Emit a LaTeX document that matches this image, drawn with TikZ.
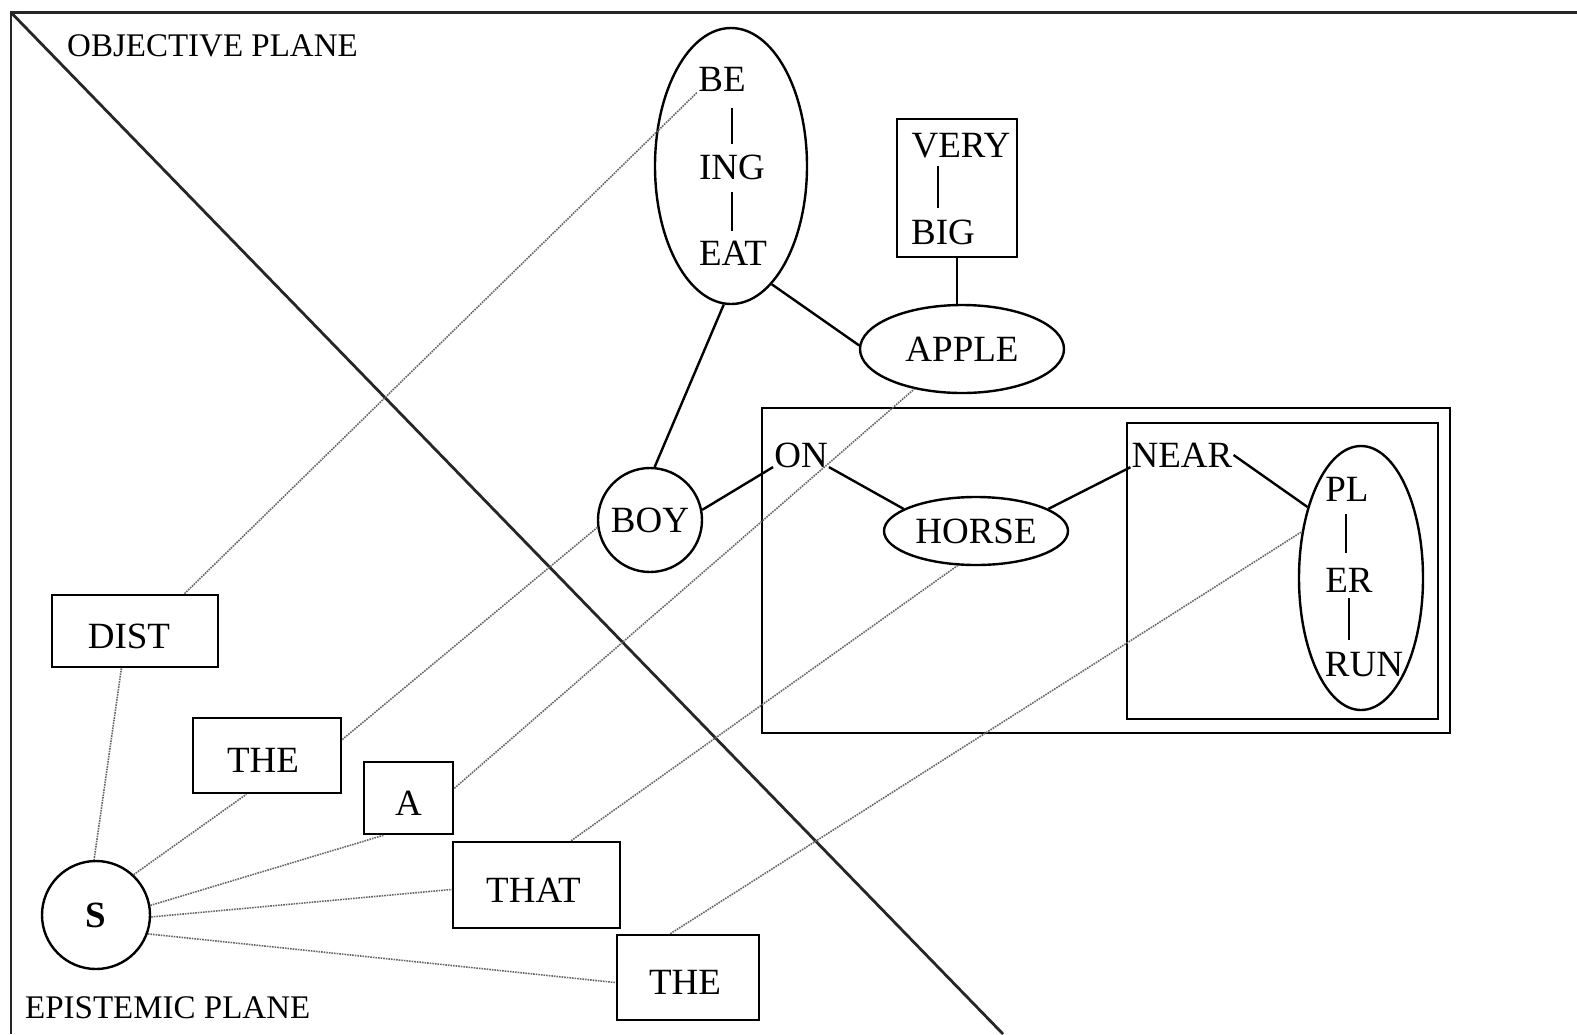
\documentclass[tikz,border=0pt]{standalone}
\usepackage{fontspec}
\setmainfont{Liberation Serif}
\usetikzlibrary{shapes.geometric,calc}
\begin{document}
\begin{tikzpicture}[x=1pt,y=-1pt,
  txt/.style={font=\fontsize{37}{40}\selectfont, inner sep=1pt},
  plane/.style={font=\fontsize{33}{36}\selectfont, inner sep=0pt, anchor=west},
  ell/.style={draw, ellipse, line width=2.4pt, inner sep=0pt, font=\fontsize{37}{40}\selectfont},
  circ/.style={draw, circle, line width=2.4pt, inner sep=0pt, font=\fontsize{37}{40}\selectfont},
  wbox/.style={draw, rectangle, line width=2.6pt, inner sep=0pt, font=\fontsize{37}{40}\selectfont, text height=34pt, text depth=0pt},
  emptybox/.style={draw, rectangle, line width=2.6pt, inner sep=0pt},
  solidlink/.style={line width=2.4pt},
  dotlink/.style={densely dotted, line width=1.6pt, black!60},
  planeframe/.style={line width=2.8pt, black!85}
]
\useasboundingbox (0,0) rectangle (1577,1034);
% frame and dividing diagonal
\coordinate (tl) at (11,12.5);
\coordinate (tr) at (1577,12.5);
\coordinate (bl) at (11,1034);
\coordinate (db) at (1003,1034);
\draw[planeframe] (tr) -- (tl) -- (bl);
\draw[planeframe] (tl) -- (db);
\node[plane] (objp) at (67,46) {OBJECTIVE PLANE};
\node[plane] (epip) at (25,1008) {EPISTEMIC PLANE};

% objective plane
\node[ell, minimum width=152pt, minimum height=276pt] (beat) at (731,166) {};
\node[txt] (be) at (722,79) {BE};
\node[txt] (ing) at (732,167) {ING};
\node[txt] (eat) at (733,253) {EAT};
\draw[solidlink, shorten <=16pt, shorten >=9pt] (ing.north |- be.south) -- (ing.north);
\draw[solidlink, shorten <=11pt, shorten >=9pt] (ing.south) -- (ing.south |- eat.north);

\node[emptybox, minimum width=120pt, minimum height=138pt] (vbbox) at (957,188) {};
\node[txt] (very) at (961,146) {VERY};
\node[txt] (big) at (943,232) {BIG};
\draw[solidlink, shorten <=6pt, shorten >=10pt] ($(big.north |- very.south)+(-5,0)$) -- ($(big.north)+(-5,0)$);

\node[ell, minimum width=204pt, minimum height=88pt] (apple) at (962,349) {APPLE};
\draw[solidlink] (vbbox.south) -- (vbbox.south |- apple.north);
\draw[solidlink] (beat.-71) -- (apple.178);

\node[circ, minimum size=104pt] (boy) at (650,520) {BOY};
\draw[solidlink] (beat.-93) -- (boy.85);

\node[emptybox, minimum width=688pt, minimum height=325pt] (outerbox) at (1106,570.5) {};
\node[emptybox, minimum width=311pt, minimum height=296pt] (innerbox) at (1282.5,571) {};

\node[txt] (on) at (801,455) {ON};
\draw[solidlink] (boy.11) -- (on.base west);
\node[ell, minimum width=184pt, minimum height=68pt] (horse) at (976,531) {HORSE};
\draw[solidlink] (on.base east) -- (horse.163);
\node[txt] (near) at (1182,455) {NEAR};
\draw[solidlink] (horse.17) -- (near.base west);

\node[ell, minimum width=124pt, minimum height=264pt] (pler) at (1361,578) {};
\node[txt] (pl) at (1347,489) {PL};
\node[txt] (er) at (1349,580) {ER};
\node[txt] (run) at (1364,665) {RUN};
\draw[solidlink, shorten <=12pt, shorten >=14pt] ($(er.north |- pl.south)+(-3,0)$) -- ($(er.north)+(-3,0)$);
\draw[solidlink, shorten <=5pt, shorten >=12pt] (er.south) -- (er.south |- run.north);
\draw[solidlink] (near.east) -- (pler.127);

% epistemic plane
\node[circ, minimum size=108pt, font=\fontsize{37}{40}\selectfont\bfseries] (s) at (96,915) {S};
\node[wbox, minimum width=166pt, minimum height=72pt] (dist) at (135,631) {\hspace*{-12pt}DIST};
\node[wbox, minimum width=148pt, minimum height=75pt] (the1) at (267,755.5) {\hspace*{-8pt}THE};
\node[wbox, minimum width=89pt, minimum height=72pt] (a) at (408.5,798) {A};
\node[wbox, minimum width=167pt, minimum height=86pt] (that) at (536.5,885) {\hspace*{-6pt}THAT};
\node[wbox, minimum width=142pt, minimum height=85pt] (the2) at (688,977.5) {\hspace*{-6pt}THE};

\draw[dotlink] (dist.-110) -- (s.92);
\draw[dotlink] (s.47) -- (the1.-118);
\draw[dotlink] (s.10) -- (a.-124);
\draw[dotlink] (s.-2) -- (that.183);
\draw[dotlink] (s.-20) -- (the2.184);

\draw[dotlink] (dist.37) -- (be.south west);
\draw[dotlink] (the1.12) -- (boy.188);
\draw[dotlink] (a.12) -- (apple.-140);
\draw[dotlink] (that.52) -- (horse.-118);
\draw[dotlink] (the2.112) -- (pler.142);
\end{tikzpicture}
\end{document}
